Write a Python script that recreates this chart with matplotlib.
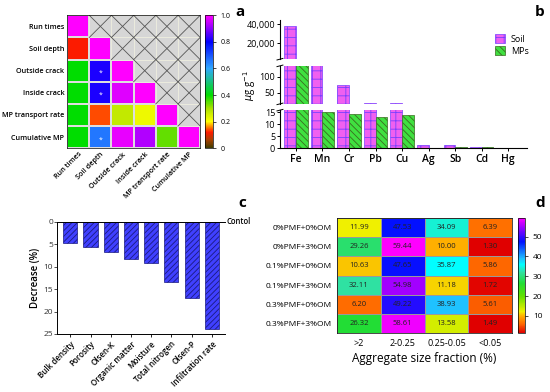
import numpy as np
import matplotlib.pyplot as plt
import matplotlib.patches as mpatches
from matplotlib.colors import LinearSegmentedColormap
from matplotlib.ticker import FuncFormatter

plt.rcParams['font.family'] = ['Open Sans', 'DejaVu Sans']
plt.rcParams['hatch.linewidth'] = 0.6
plt.rcParams['axes.linewidth'] = 0.8

# ---- data: panel a (lower-triangle correlation)
vars_a = ['Run times', 'Soil depth', 'Outside crack', 'Inside crack',
          'MP transport rate', 'Cumulative MP']
corr_rows = [
    [1.00],
    [0.12, 1.00],
    [0.40, 0.82, 1.00],
    [0.40, 0.82, 0.97, 1.00],
    [0.40, 0.14, 0.27, 0.22, 1.00],
    [0.40, 0.66, 0.98, 0.93, 0.34, 1.00],
]
stars_a = [(2, 1), (3, 1), (5, 1)]

# ---- data: panel b (metal contents)
metals = ['Fe', 'Mn', 'Cr', 'Pb', 'Cu', 'Ag', 'Sb', 'Cd', 'Hg']
soil = [38000, 620, 75, 19, 18, 1.5, 1.2, 0.4, 0.2]
mps = [3700, 15.2, 14.0, 13.0, 13.6, 0.1, 0.5, 0.6, 0.05]

# ---- data: panel c
props = ['Bulk density', 'Porosity', 'Olsen-K', 'Organic matter', 'Moisture',
         'Total nitrogen', 'Olsen-P', 'Infiltration rate']
decrease = [4.7, 5.5, 6.8, 8.2, 9.1, 13.3, 17.0, 24.0]

# ---- data: panel d
treat = ['0%PMF+0%OM', '0%PMF+3%OM', '0.1%PMF+0%OM', '0.1%PMF+3%OM',
         '0.3%PMF+0%OM', '0.3%PMF+3%OM']
fractions = ['>2', '2-0.25', '0.25-0.05', '<0.05']
agg = [[11.99, 47.53, 34.09, 6.39],
       [29.26, 59.44, 10.00, 1.30],
       [10.63, 47.65, 35.87, 5.86],
       [32.11, 54.98, 11.18, 1.72],
       [6.20, 49.22, 38.93, 5.61],
       [26.32, 58.61, 13.58, 1.49]]

fig = plt.figure(figsize=(5.5, 3.92), dpi=100)

# ================= panel a
cmap_a = LinearSegmentedColormap.from_list('ca', [
    (0.0, '#3c3c00'), (0.06, '#a84000'), (0.12, '#ff1a00'), (0.2, '#ffff00'),
    (0.3, '#a8e000'), (0.4, '#00dd00'), (0.6, '#30a8ff'), (0.8, '#0000ff'),
    (0.9, '#8a00ff'), (1.0, '#ff00ff')])
n = len(vars_a)
M = np.full((n, n), np.nan)
for i, row in enumerate(corr_rows):
    M[i, :len(row)] = row
axa = fig.add_axes([0.122, 0.622, 0.242, 0.339])
mesh = axa.pcolormesh(np.ma.masked_invalid(M), cmap=cmap_a, vmin=0, vmax=1,
                      edgecolor='#dddddd', linewidth=0.3)
for i in range(n):
    for j in range(i + 1, n):
        axa.add_patch(mpatches.Rectangle((j, i), 1, 1, facecolor='#d6d6d6',
                                         edgecolor='#f0f0e0', lw=0.5))
        axa.plot([j, j + 1], [i, i + 1], color='#555555', lw=0.6)
        axa.plot([j, j + 1], [i + 1, i], color='#555555', lw=0.6)
for (i, j) in stars_a:
    axa.text(j + 0.5, i + 0.62, '*', color='white', ha='center', va='center', fontsize=5)
axa.set_xlim(0, n)
axa.set_ylim(n, 0)
axa.set_xticks(np.arange(n) + 0.5)
axa.set_yticks(np.arange(n) + 0.5)
axa.set_xticklabels(vars_a, rotation=45, ha='right', rotation_mode='anchor',
                    fontsize=5.2, fontweight='semibold')
axa.set_yticklabels(vars_a, fontsize=5.2, fontweight='semibold')
axa.tick_params(length=0, pad=2)
for s in axa.spines.values():
    s.set_linewidth(0.5)

caxa = fig.add_axes([0.373, 0.622, 0.014, 0.339])
cb = fig.colorbar(mesh, cax=caxa)
cb.set_ticks([0, 0.2, 0.4, 0.6, 0.8, 1.0])
cb.set_ticklabels(['0', '0.2', '0.4', '0.6', '0.8', '1.0'])
cb.ax.tick_params(labelsize=5, length=2, width=0.5)
cb.outline.set_linewidth(0.5)

# ================= panel b (broken axis)
x = np.arange(len(metals))
w = 0.44
soil_kw = dict(facecolor='#f060f0', edgecolor='#7a40ff', hatch='++', lw=0.5)
mps_kw = dict(facecolor='#40e040', edgecolor='#3a6a20', hatch='\\\\\\\\\\', lw=0.5)
left_b, width_b = 0.509, 0.449
segs = [(0.849, 0.0995, (3000, 44200), [20000, 40000]),
        (0.735, 0.097, (16, 134), [50, 100]),
        (0.622, 0.097, (0, 15.8), [0, 5, 10, 15])]
axes_b = []
for k, (bot, h, yl, yt) in enumerate(segs):
    ax = fig.add_axes([left_b, bot, width_b, h])
    ax.bar(x - w / 2, soil, w, label='Soil', **soil_kw)
    ax.bar(x + w / 2, mps, w, label='MPs', **mps_kw)
    ax.set_ylim(*yl)
    ax.set_yticks(yt)
    ax.set_xlim(-0.6, 8.7)
    ax.spines['top'].set_visible(False)
    ax.spines['right'].set_visible(False)
    ax.tick_params(axis='y', labelsize=6.5, length=2.5, width=0.7, pad=1)
    if k < 2:
        ax.spines['bottom'].set_visible(False)
        ax.set_xticks([])
    # break marks
    d = 0.05
    if k > 0:
        ax.plot([-0.012, 0.012], [1 - d * 0.4, 1 + d * 0.4], transform=ax.transAxes,
                color='k', lw=0.7, clip_on=False)
    if k < 2:
        ax.plot([-0.012, 0.012], [-d * 0.4, d * 0.4], transform=ax.transAxes,
                color='k', lw=0.7, clip_on=False)
    axes_b.append(ax)
axes_b[0].yaxis.set_major_formatter(FuncFormatter(lambda v, p: f'{int(v):,}'))
axb = axes_b[2]
axb.set_xticks(x)
axb.set_xticklabels(metals, fontsize=7.5, fontweight='semibold')
axb.tick_params(axis='x', length=2.5, width=0.7, pad=2)
axes_b[0].legend(loc='upper right', bbox_to_anchor=(1.04, 0.85), fontsize=6.5,
                 frameon=False, handlelength=1.1, handleheight=1.1,
                 handletextpad=0.6, labelspacing=0.3)
fig.text(250 / 550, 1 - 86 / 392, r'$\mu$g g$^{-1}$', rotation=90, ha='center',
         va='center', fontsize=7)

# ================= panel c
axc = fig.add_axes([0.104, 0.148, 0.305, 0.286])
xc = np.arange(len(props))
axc.bar(xc, decrease, 0.7, facecolor='#4040ff', edgecolor='#1a1a80',
        hatch='//////', lw=0.5)
axc.set_ylim(25, 0)
axc.set_xlim(-0.65, len(props) - 0.35)
axc.set_yticks([0, 5, 10, 15, 20, 25])
axc.set_xticks(xc)
axc.set_xticklabels(props, rotation=45, ha='right', rotation_mode='anchor',
                    fontsize=5.8, fontweight='semibold')
axc.spines['right'].set_visible(False)
axc.tick_params(axis='y', labelsize=6, length=2, width=0.6, pad=1, colors='#333333')
axc.tick_params(axis='x', length=2, width=0.6, pad=2)
axc.set_ylabel('Decrease (%)', fontsize=7, fontweight='semibold', labelpad=2)
axc.text(1.01, 0, 'Contol', transform=axc.get_yaxis_transform(), ha='left',
         va='center', fontsize=5.5, fontweight='semibold')
for s in axc.spines.values():
    s.set_linewidth(0.7)

# ================= panel d
cmap_d_nodes = [(1.3, '#e00000'), (6.0, '#ff6a00'), (10.0, '#ffb000'),
                (12.0, '#f0f000'), (20.0, '#60e000'), (26.3, '#22dd33'),
                (32.0, '#30e0a0'), (35.9, '#00ffff'), (39.0, '#20c0ff'),
                (47.5, '#0010ff'), (55.0, '#a000ff'), (59.44, '#ff00ff')]
vmin_d, vmax_d = 1.3, 59.44
cmap_d = LinearSegmentedColormap.from_list(
    'cd', [((v - vmin_d) / (vmax_d - vmin_d), c) for v, c in cmap_d_nodes])
axd = fig.add_axes([0.613, 0.150, 0.318, 0.294])
A = np.array(agg)
im = axd.pcolormesh(A, cmap=cmap_d, vmin=vmin_d, vmax=vmax_d,
                    edgecolor='#999999', linewidth=0.4)
for i in range(A.shape[0]):
    for j in range(A.shape[1]):
        axd.text(j + 0.5, i + 0.5, f'{A[i, j]:.2f}', ha='center', va='center',
                 fontsize=5.5, color='#222222')
axd.set_ylim(A.shape[0], 0)
axd.set_xticks(np.arange(4) + 0.5)
axd.set_xticklabels(fractions, fontsize=6.5)
axd.set_yticks(np.arange(6) + 0.5)
axd.set_yticklabels(treat, fontsize=6)
axd.tick_params(length=0, pad=4)
axd.set_xlabel('Aggregate size fraction (%)', fontsize=8.5, labelpad=3)
for s in axd.spines.values():
    s.set_linewidth(0.5)
caxd = fig.add_axes([0.942, 0.150, 0.013, 0.294])
cbd = fig.colorbar(im, cax=caxd)
cbd.set_ticks([10, 20, 30, 40, 50])
cbd.ax.tick_params(labelsize=6, length=2, width=0.5)
cbd.outline.set_linewidth(0.5)

# panel letters
for lab, (px, py) in zip('abcd', [(240, 12), (540, 12), (242, 203), (540, 203)]):
    fig.text(px / 550, 1 - py / 392, lab, fontsize=11, fontweight='bold',
             ha='center', va='center')

fig.savefig('out.png', dpi=100)
